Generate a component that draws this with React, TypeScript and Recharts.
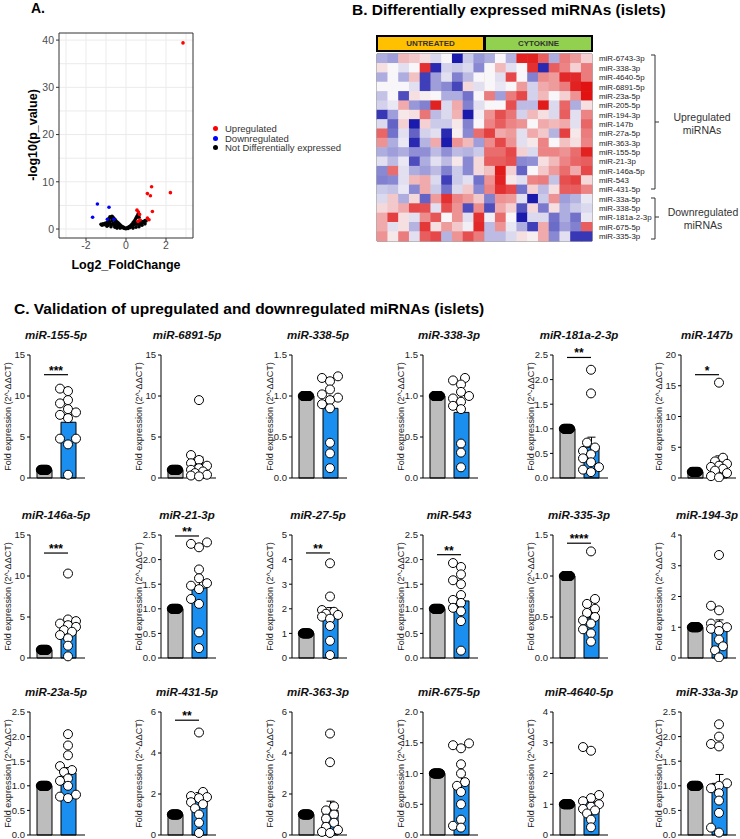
import React from 'react'
import {
  ScatterChart,
  Scatter,
  ComposedChart,
  Bar,
  Cell,
  ErrorBar,
  XAxis,
  YAxis,
  CartesianGrid,
  ReferenceLine,
  ReferenceArea,
} from 'recharts'

const FONT = '"Liberation Sans", Arial, Helvetica, sans-serif'

// ---------- A. volcano plot: [log2 fold change, -log10 p] ----------
const volcanoUp = [
  [2.85, 39.4], [2.22, 7.7], [1.28, 8.95], [1.07, 7.5], [1.22, 7.05], [1.32, 3.7],
  [0.55, 4.0], [0.62, 3.6], [0.68, 3.1], [1.07, 2.3], [1.15, 1.95], [0.7, 1.9], [0.6, 1.6],
]
const volcanoDown = [[-1.43, 5.3], [-0.85, 4.6], [-1.67, 2.5], [-0.93, 2.05], [-0.6, 2.05]]
const volcanoNs = [
  [-1.25, 1.0], [-1.15, 1.1], [-1.1, 0.9], [-1.05, 1.2], [-1.0, 1.0], [-0.95, 1.4], [-0.9, 0.8],
  [-0.9, 1.1], [-0.85, 1.6], [-0.85, 2.2], [-0.8, 2.6], [-0.8, 1.3], [-0.75, 2.4], [-0.75, 0.9],
  [-0.7, 2.7], [-0.7, 1.8], [-0.65, 2.5], [-0.65, 1.2], [-0.6, 2.2], [-0.6, 0.8], [-0.55, 2.0],
  [-0.55, 1.5], [-0.5, 1.7], [-0.5, 1.0], [-0.45, 1.5], [-0.45, 0.7], [-0.4, 1.3], [-0.4, 0.9],
  [-0.35, 1.1], [-0.35, 0.5], [-0.3, 0.9], [-0.3, 0.6], [-0.25, 0.7], [-0.25, 0.4], [-0.2, 0.55],
  [-0.2, 0.3], [-0.15, 0.4], [-0.1, 0.3], [-0.1, 0.15], [-0.05, 0.1], [0, 0.05], [0.02, 0.2],
  [0.05, 0.15], [0.1, 0.3], [0.1, 0.1], [0.15, 0.45], [0.2, 0.6], [0.2, 0.3], [0.25, 0.8],
  [0.25, 0.5], [0.3, 1.0], [0.3, 0.6], [0.35, 1.3], [0.35, 0.8], [0.4, 1.6], [0.4, 0.9],
  [0.45, 1.9], [0.45, 1.1], [0.5, 2.3], [0.5, 1.3], [0.55, 2.7], [0.55, 1.0], [0.6, 3.1],
  [0.6, 1.5], [0.65, 2.5], [0.65, 1.2], [0.7, 1.8], [0.7, 1.0], [0.75, 1.5], [0.8, 1.2],
  [0.85, 1.6], [0.9, 1.4], [0.95, 1.8], [1.0, 1.7], [-1.2, 0.8], [-0.95, 0.6], [-0.75, 0.5],
  [-0.55, 0.4], [-0.45, 0.2], [-0.3, 0.2], [0.35, 0.2], [0.5, 0.4], [0.65, 0.5], [0.8, 0.8],
  [0.95, 1.1],
]
const volcanoXTicks = [-2, 0, 2]
const volcanoYTicks = [0, 10, 20, 30, 40]

// ---------- B. heatmap (z-scores), 10 untreated + 10 cytokine columns ----------
const heatRowNames = [
  'miR-6743-3p', 'miR-338-3p', 'miR-4640-5p', 'miR-6891-5p', 'miR-23a-5p', 'miR-205-5p',
  'miR-194-3p', 'miR-147b', 'miR-27a-5p', 'miR-363-3p', 'miR-155-5p', 'miR-21-3p',
  'miR-146a-5p', 'miR-543', 'miR-431-5p', 'miR-33a-5p', 'miR-338-5p', 'miR-181a-2-3p',
  'miR-675-5p', 'miR-335-3p',
]
const heatValues = [
  [-1, -1.2, 0.8, 0.6, 0.3, -0.4, 0, -3, -0.6, -1.3, -1, 0, -0.9, 2.8, 2.8, 2, -1, 1.6, 1.2, 0.5],
  [0.3, 0, -0.3, 0, 2.6, -2.8, -0.5, -0.6, -0.4, -1.5, 0, 0.8, -0.3, 0, 2.6, -2.8, 2, 1.5, 0.5, 1.6],
  [-1, 0, -1, 0.7, -2.5, -1.2, -0.3, -1.6, -0.8, 0, 0, -0.3, 2.3, 0, -1.6, 1.4, 1.2, 2.7, 2.7, 1.6],
  [0, 0, 0, -0.3, -2.5, -1.2, -1.5, -2.4, 0.4, -0.3, 0, -0.2, 0, 1.2, -0.5, 1, 1.2, 1.6, 2.8, 3],
  [-0.7, 0, -2.3, 0.3, 0.1, 0, -1, -1, -1.8, 0, 1.6, -1.2, 1.6, 2.3, -0.5, 0.8, 0, 0.5, 1.3, 3],
  [-0.5, -0.2, 1, -1.3, -1.6, 2.8, -0.4, 1, -1.6, -0.3, 0, 0, 2.2, -0.8, -0.8, 2.9, -0.4, 1.9, -1, 0.3],
  [-2.6, -1.2, 0.2, 0.3, 1.7, -0.8, -0.4, 0.9, -3, -0.1, 1.3, 2.2, 1.7, -0.5, 0.8, 0.3, -0.4, 2, -0.3, 1.5],
  [-0.4, -2, 0.5, -3, 0.5, -0.6, -0.6, 0.2, -1.6, 0, 1.5, 2, 1.5, 1.3, 0, 1, 0.8, 1, -0.3, 1.9],
  [1.9, -1.8, -0.3, -2, -0.5, -0.3, -2.8, 0.1, -1.5, 1.8, 2.4, 1, 1.2, -0.3, 1, 0.6, -0.9, 2.4, 0.2, 1.6],
  [1.3, -1, -0.2, -2.8, -0.9, 1, -3, 1.3, 0.8, -1.2, 1.4, 2.3, 1.3, -0.3, 0.2, 1.5, 0, 0.7, 0.3, 1.5],
  [-1, -1.2, -1, -1.4, -1.4, -0.8, -1.4, -0.8, -0.9, -0.6, 1.8, 1.8, 2.3, 0.5, -0.4, 1.5, 1.5, 1.3, 1.8, 2.8],
  [-0.3, -0.8, -0.2, -2.3, -1, -0.3, -0.8, 0.2, -1.5, 0.4, 2, 2, 2.2, -1.5, -1.4, 0.3, 0.8, 1.5, 1.9, 2],
  [-1.5, 1.8, -0.3, -1, -1.2, -0.8, -1.6, -0.6, -1.5, 0.4, 0.7, 2.9, 0.5, -2, 0, 0.6, 1.2, 1.8, 1, 2.3],
  [-1.6, -1.5, -0.3, 0.8, 1, -0.4, -2.5, -0.6, -0.3, -1.8, 1.3, 2.8, 0.2, -0.3, 1.5, 1.6, -0.7, 2.2, 2.4, 0.4],
  [-0.6, -0.7, -0.2, -1.5, 1, -0.6, -1.8, -0.4, 0.6, -1.5, 1.5, 2.6, 2.3, -1.8, 0.5, -0.8, 0.3, 2, 2, 1.5],
  [-0.4, 0.6, -1, 0.4, -2, 1.2, 2.6, 1.5, 1.2, 0.6, -1.6, 1.3, 1.2, -0.3, -3, -0.6, 1.3, -1.2, -0.9, -0.2],
  [0.4, 0.6, 1, 2.3, 2.2, -0.3, 2.2, 1.3, -2.3, 1.4, -2.3, 1, 0.5, -2.2, 0.4, -1.7, 0.3, -1, -0.6, -0.4],
  [1, 2.4, 0.3, -0.3, 1.4, 2.1, 0, 1.3, -0.3, 2.6, -0.1, 1.8, 0, -3, -0.4, -0.4, -1.8, -1, -1.8, -0.2],
  [1, -0.3, 0.3, -0.9, 2.5, 0.3, 1.2, 0.6, -0.1, 2.7, -0.8, 1.3, -0.2, -1, -2.5, 1, -1.9, -1.2, -1.6, 2],
  [1.3, 0.2, 1.6, -0.3, 2, 2.3, -0.9, 1.3, 2.2, 1.6, -0.8, -0.8, -0.4, 0.3, 0.1, 1, -1.5, -0.3, -2.6, -2.6],
]

// ---------- C. qPCR validation ----------
const mirNames = [
  'miR-155-5p', 'miR-6891-5p', 'miR-338-5p', 'miR-338-3p', 'miR-181a-2-3p', 'miR-147b',
  'miR-146a-5p', 'miR-21-3p', 'miR-27-5p', 'miR-543', 'miR-335-3p', 'miR-194-3p',
  'miR-23a-5p', 'miR-431-5p', 'miR-363-3p', 'miR-675-5p', 'miR-4640-5p', 'miR-33a-3p',
]
const yTicks = [
  [0, 5, 10, 15], [0, 5, 10, 15], [0, 0.5, 1, 1.5], [0, 0.5, 1, 1.5], [0, 0.5, 1, 1.5, 2, 2.5], [0, 5, 10, 15, 20],
  [0, 5, 10, 15], [0, 0.5, 1, 1.5, 2, 2.5], [0, 1, 2, 3, 4, 5], [0, 0.5, 1, 1.5, 2, 2.5], [0, 0.5, 1, 1.5], [0, 1, 2, 3, 4],
  [0, 0.5, 1, 1.5, 2, 2.5], [0, 2, 4, 6], [0, 2, 4, 6], [0, 0.5, 1, 1.5, 2], [0, 1, 2, 3, 4], [0, 0.5, 1, 1.5, 2, 2.5],
]
const cytoMean = [6.8, 1.85, 0.85, 0.8, 0.63, 2.4, 3.5, 1.42, 1.75, 1.16, 0.49, 0.97, 1.26, 1.7, 1.2, 0.84, 1.07, 1.05]
const cytoSem = [0.9, 0.7, 0.1, 0.12, 0.2, 1.2, 0.75, 0.18, 0.3, 0.14, 0.1, 0.27, 0.11, 0.37, 0.45, 0.13, 0.2, 0.18]
const cytoPoints = [
  [10.9, 10.6, 9.5, 9.1, 8.4, 8.0, 7.7, 7.3, 4.8, 4.8, 4.1, 0.4],
  [9.5, 2.8, 2.2, 1.8, 1.5, 1.2, 1.0, 0.8, 0.6, 0.4, 0.3, 0.2],
  [1.24, 1.22, 1.18, 1.08, 1.02, 0.98, 0.95, 0.9, 0.85, 0.43, 0.3, 0.12],
  [1.22, 1.19, 1.14, 1.05, 1.0, 0.97, 0.93, 0.88, 0.84, 0.42, 0.31, 0.13],
  [2.2, 1.72, 0.72, 0.62, 0.55, 0.48, 0.4, 0.32, 0.22, 0.17, 0.12],
  [15.5, 3.3, 2.7, 2.3, 2.0, 1.8, 1.5, 1.2, 0.8, 0.3, 0.1],
  [10.3, 4.7, 4.5, 4.2, 4.0, 3.8, 3.4, 3.2, 2.8, 2.4, 1.5, 0.2],
  [2.35, 2.32, 2.25, 1.8, 1.62, 1.52, 1.47, 1.4, 1.2, 1.1, 0.52, 0.2],
  [3.85, 2.5, 1.95, 1.88, 1.8, 1.75, 1.68, 1.6, 1.3, 0.7, 0.12],
  [1.93, 1.85, 1.7, 1.58, 1.5, 1.28, 1.18, 1.12, 1.02, 0.95, 0.75, 0.15],
  [1.3, 0.72, 0.66, 0.6, 0.55, 0.5, 0.46, 0.42, 0.35, 0.3, 0.2],
  [3.35, 1.7, 1.55, 1.12, 1.05, 1.0, 0.95, 0.88, 0.6, 0.38, 0.25, 0.02],
  [2.05, 1.82, 1.62, 1.4, 1.32, 1.28, 1.15, 1.1, 1.0, 0.82, 0.78, 0.75],
  [5.0, 2.1, 1.9, 1.85, 1.8, 1.6, 1.5, 1.3, 1.0, 0.6, 0.1],
  [4.95, 3.55, 1.4, 1.2, 1.0, 0.8, 0.6, 0.4, 0.25, 0.15, 0.1],
  [1.49, 1.46, 1.41, 1.15, 1.0, 0.86, 0.8, 0.7, 0.5, 0.25, 0.15, 0.12],
  [2.86, 2.74, 1.3, 1.2, 1.1, 1.0, 0.92, 0.85, 0.8, 0.7, 0.5, 0.25],
  [2.25, 2.0, 1.85, 1.8, 1.05, 1.0, 0.95, 0.85, 0.7, 0.45, 0.15, 0.05],
]
const sigText = ['***', '', '', '', '**', '*', '***', '**', '**', '**', '****', '', '', '**', '', '', '', '']
const sigLevel = [12.6, 0, 0, 0, 2.45, 16.8, 12.8, 2.48, 4.27, 2.1, 1.4, 0, 0, 5.6, 0, 0, 0, 0]
const CONTROL_VALUE = 1
const CONTROL_N = 12

// layout
const colAxisX = [30, 161, 292, 423, 553, 681]
const rowPlotTop = [355, 535, 712]
const PLOT_H = 123
const Y_W = 44
const TOP_M = 14
const DOT_R = 4.5

function heatColor(v: number) {
  const t = Math.min(1, Math.abs(v) / 3)
  const base = [248, 246, 248]
  const end = v >= 0 ? [224, 18, 18] : [26, 26, 172]
  const c = base.map((b, i) => Math.round(b + (end[i] - b) * t))
  return `rgb(${c[0]},${c[1]},${c[2]})`
}

// simple beeswarm: horizontal pixel offsets so dots don't pile up too much
function swarm(values: number[], pxPerUnit: number) {
  const placed: { dx: number; y: number }[] = []
  const out: number[] = new Array(values.length).fill(0)
  const step = 4
  const cands = [0, -step, step, -2 * step, 2 * step]
  const order = values.map((v, i) => ({ v, i })).sort((a, b) => a.v - b.v)
  for (const { v, i } of order) {
    const y = v * pxPerUnit
    let best = 0
    let bestD = -1
    for (const dx of cands) {
      let md = Infinity
      for (const p of placed) md = Math.min(md, Math.hypot(p.dx - dx, p.y - y))
      if (md >= DOT_R * 1.6) {
        best = dx
        break
      }
      if (md > bestD) {
        bestD = md
        best = dx
      }
    }
    placed.push({ dx: best, y })
    out[i] = best
  }
  return out
}

function Volcano() {
  const toPts = (a: number[][]) => a.map(([x, y]) => ({ x, y }))
  const dot = (fill: string) => (p: any) => <circle cx={p.cx} cy={p.cy} r={1.8} fill={fill} />
  return (
    <div style={{ position: 'absolute', left: 0, top: 0 }}>
      <ScatterChart width={200} height={280} margin={{ top: 33, right: 7, bottom: 22, left: 29 }}>
        <CartesianGrid
          stroke="#ebebeb"
          horizontalValues={[0, 5, 10, 15, 20, 25, 30, 35, 40]}
          verticalValues={[-3, -2, -1, 0, 1, 2, 3]}
        />
        <XAxis
          type="number"
          dataKey="x"
          domain={[-3.35, 3.35]}
          ticks={volcanoXTicks}
          interval={0}
          height={20}
          tickSize={3}
          tickMargin={1}
          axisLine={false}
          tickLine={{ stroke: '#333' }}
          tick={{ fontSize: 10.5, fill: '#4d4d4d' }}
          allowDataOverflow
        />
        <YAxis
          type="number"
          dataKey="y"
          domain={[-1.9, 41.5]}
          ticks={volcanoYTicks}
          interval={0}
          width={30}
          tickSize={3}
          tickMargin={2}
          axisLine={false}
          tickLine={{ stroke: '#333' }}
          tick={{ fontSize: 10.5, fill: '#4d4d4d' }}
          allowDataOverflow
        />
        <ReferenceArea x1={-3.35} x2={3.35} y1={-1.9} y2={41.5} fill="none" stroke="#333" ifOverflow="visible" />
        <Scatter name="Not Differentially expressed" data={toPts(volcanoNs)} fill="#000" shape={dot('#000')} isAnimationActive={false} />
        <Scatter name="Downregulated" data={toPts(volcanoDown)} fill="#0000ff" shape={dot('#0000ff')} isAnimationActive={false} />
        <Scatter name="Upregulated" data={toPts(volcanoUp)} fill="#ff0000" shape={dot('#ff0000')} isAnimationActive={false} />
      </ScatterChart>
    </div>
  )
}

function Heatmap() {
  const cells = heatValues.flatMap((row, r) => row.map((v, c) => ({ c: c + 0.5, r: r + 0.5, v })))
  const cw = 215 / 20
  const ch = 187 / 20
  const cellShape = (p: any) => (
    <rect x={p.cx - cw / 2 - 0.3} y={p.cy - ch / 2 - 0.3} width={cw + 0.6} height={ch + 0.6} fill={heatColor(p.payload.v)} />
  )
  return (
    <div style={{ position: 'absolute', left: 370, top: 46 }}>
      <ScatterChart width={300} height={200} margin={{ top: 8, right: 8, bottom: 5, left: 7 }}>
        <XAxis type="number" dataKey="c" domain={[0, 20]} hide />
        <YAxis
          type="number"
          dataKey="r"
          domain={[0, 20]}
          reversed
          orientation="right"
          width={70}
          ticks={heatRowNames.map((_, i) => i + 0.5)}
          interval={0}
          tickFormatter={(v: number) => heatRowNames[Math.floor(v)]}
          axisLine={false}
          tickLine={false}
          tickSize={0}
          tickMargin={7}
          tick={{ fontSize: 7.9, fill: '#222' }}
        />
        <Scatter data={cells} shape={cellShape} isAnimationActive={false} />
        <ReferenceArea x1={0} x2={20} y1={0} y2={20} fill="none" stroke="#555" />
        <ReferenceLine x={10} stroke="#000" strokeWidth={2.5} />
        <ReferenceLine y={15} stroke="#000" strokeWidth={2.5} />
      </ScatterChart>
    </div>
  )
}

function MiniChart({ idx }: { idx: number }) {
  const col = idx % 6
  const row = Math.floor(idx / 6)
  const axisX = colAxisX[col]
  const plotTop = rowPlotTop[row]
  const ticks = yTicks[idx]
  const max = ticks[ticks.length - 1]
  const decimals = ticks.some((t) => t % 1 !== 0)
  const data = [
    { g: 'U', m: CONTROL_VALUE, e: [0, 0] },
    { g: 'C', m: cytoMean[idx], e: [0, cytoSem[idx]] },
  ]
  const offs = swarm(cytoPoints[idx], PLOT_H / max)
  const pts = cytoPoints[idx].map((v, i) => ({ g: 'C', v, dx: offs[i] }))
  const ctrl = Array.from({ length: CONTROL_N }, (_, i) => ({
    g: 'U',
    v: CONTROL_VALUE,
    dx: -3.2 + (6.4 * i) / (CONTROL_N - 1),
  }))
  const dot = (fill: string) => (p: any) => (
    <circle cx={p.cx + (p.payload?.dx ?? 0)} cy={p.cy} r={DOT_R} fill={fill} stroke="#000" strokeWidth={1} />
  )
  return (
    <>
      <div
        style={{
          position: 'absolute',
          left: axisX - 34,
          width: 120,
          top: plotTop - 26,
          textAlign: 'center',
          fontSize: 11.5,
          lineHeight: '12px',
          fontWeight: 700,
          fontStyle: 'italic',
          color: '#111',
        }}
      >
        {mirNames[idx]}
      </div>
      <div style={{ position: 'absolute', left: axisX - Y_W, top: plotTop - TOP_M }}>
        <ComposedChart width={Y_W + 58} height={TOP_M + PLOT_H + 4} data={data} margin={{ top: TOP_M, right: 3, bottom: 3, left: 0 }}>
          <XAxis
            dataKey="g"
            type="category"
            allowDuplicatedCategory={false}
            tick={false}
            tickLine={false}
            axisLine={{ stroke: '#000' }}
            height={1}
            padding={{ left: 2, right: 5 }}
          />
          <YAxis
            type="number"
            domain={[0, max]}
            ticks={ticks}
            interval={0}
            width={Y_W}
            tickSize={3}
            tickMargin={2}
            axisLine={{ stroke: '#000' }}
            tickLine={{ stroke: '#000' }}
            tick={{ fontSize: 9.5, fill: '#222' }}
            tickFormatter={(v: number) => (decimals ? v.toFixed(1) : String(v))}
            label={{ value: 'Fold expression (2^-ΔΔCT)', angle: -90, position: 'center', fontSize: 9, fill: '#222' }}
          />
          <Bar dataKey="m" barSize={15} stroke="#000" strokeWidth={1} isAnimationActive={false}>
            <Cell fill="#bdbdbd" />
            <Cell fill="#1b8ff0" />
            <ErrorBar dataKey="e" width={4} stroke="#000" strokeWidth={1} direction="y" />
          </Bar>
          <Scatter data={ctrl} dataKey="v" shape={dot('#000')} isAnimationActive={false} />
          <Scatter data={pts} dataKey="v" shape={dot('#fff')} isAnimationActive={false} />
          {sigText[idx] && (
            <ReferenceLine
              segment={[
                { x: 'U', y: sigLevel[idx] },
                { x: 'C', y: sigLevel[idx] },
              ]}
              stroke="#000"
              strokeWidth={1.2}
              label={{ value: sigText[idx], position: 'top', offset: 0, fontSize: 12, fontWeight: 700, fill: '#000' }}
            />
          )}
        </ComposedChart>
      </div>
    </>
  )
}

export default function App() {
  const legend = [
    { name: 'Upregulated', color: '#ff0000' },
    { name: 'Downregulated', color: '#0000ff' },
    { name: 'Not Differentially expressed', color: '#000' },
  ]
  return (
    <div
      style={{
        position: 'absolute',
        left: 0,
        top: 0,
        width: 740,
        height: 839,
        background: '#fff',
        fontFamily: FONT,
        overflow: 'hidden',
      }}
    >
      {/* A */}
      <div style={{ position: 'absolute', left: 31, top: 0, fontSize: 14, fontWeight: 700 }}>A.</div>
      <Volcano />
      <div
        style={{
          position: 'absolute',
          left: 33,
          top: 135,
          transform: 'translate(-50%, -50%) rotate(-90deg)',
          whiteSpace: 'nowrap',
          fontSize: 12.5,
          fontWeight: 700,
        }}
      >
        -log10(p_value)
      </div>
      <div
        style={{
          position: 'absolute',
          left: 126,
          top: 265,
          transform: 'translate(-50%, -50%)',
          whiteSpace: 'nowrap',
          fontSize: 12.5,
          fontWeight: 700,
        }}
      >
        Log2_FoldChange
      </div>
      <div style={{ position: 'absolute', left: 211, top: 124 }}>
        {legend.map((l) => (
          <div key={l.name} style={{ display: 'flex', alignItems: 'center', height: 9.5, fontSize: 9.5, color: '#333' }}>
            <span style={{ width: 5, height: 5, borderRadius: '50%', background: l.color, marginLeft: 2, marginRight: 7 }} />
            {l.name}
          </div>
        ))}
      </div>

      {/* B */}
      <div style={{ position: 'absolute', left: 352, top: 1, fontSize: 15.5, lineHeight: '18px', fontWeight: 700, whiteSpace: 'nowrap' }}>
        B. Differentially expressed miRNAs (islets)
      </div>
      <div style={{ position: 'absolute', left: 376, top: 35, width: 217, height: 17, background: '#000' }}>
        <div
          style={{
            position: 'absolute', left: 2, top: 2, width: 105, height: 13, background: '#ffc000',
            fontSize: 8, fontWeight: 700, color: '#333', textAlign: 'center', lineHeight: '13px',
          }}
        >
          UNTREATED
        </div>
        <div
          style={{
            position: 'absolute', left: 110, top: 2, width: 105, height: 13, background: '#92d050',
            fontSize: 8, fontWeight: 700, color: '#333', textAlign: 'center', lineHeight: '13px',
          }}
        >
          CYTOKINE
        </div>
      </div>
      <Heatmap />
      <svg style={{ position: 'absolute', left: 0, top: 0 }} width={740} height={260}>
        <path d="M651,55 H655 V189 H651 M655,122 H659" stroke="#333" fill="none" strokeWidth={1} />
        <path d="M651,198 H655 V239 H651 M655,217 H659" stroke="#333" fill="none" strokeWidth={1} />
      </svg>
      <div style={{ position: 'absolute', left: 662, top: 111, width: 80, textAlign: 'center', fontSize: 10.5, lineHeight: '13px', color: '#333' }}>
        Upregulated
        <br />
        miRNAs
      </div>
      <div style={{ position: 'absolute', left: 663, top: 206, width: 80, textAlign: 'center', fontSize: 10.5, lineHeight: '13px', color: '#333' }}>
        Downregulated
        <br />
        miRNAs
      </div>

      {/* C */}
      <div style={{ position: 'absolute', left: 14, top: 300, fontSize: 15.5, fontWeight: 700, whiteSpace: 'nowrap' }}>
        C. Validation of upregulated and downregulated miRNAs (islets)
      </div>
      {mirNames.map((_, i) => (
        <MiniChart key={i} idx={i} />
      ))}
    </div>
  )
}
